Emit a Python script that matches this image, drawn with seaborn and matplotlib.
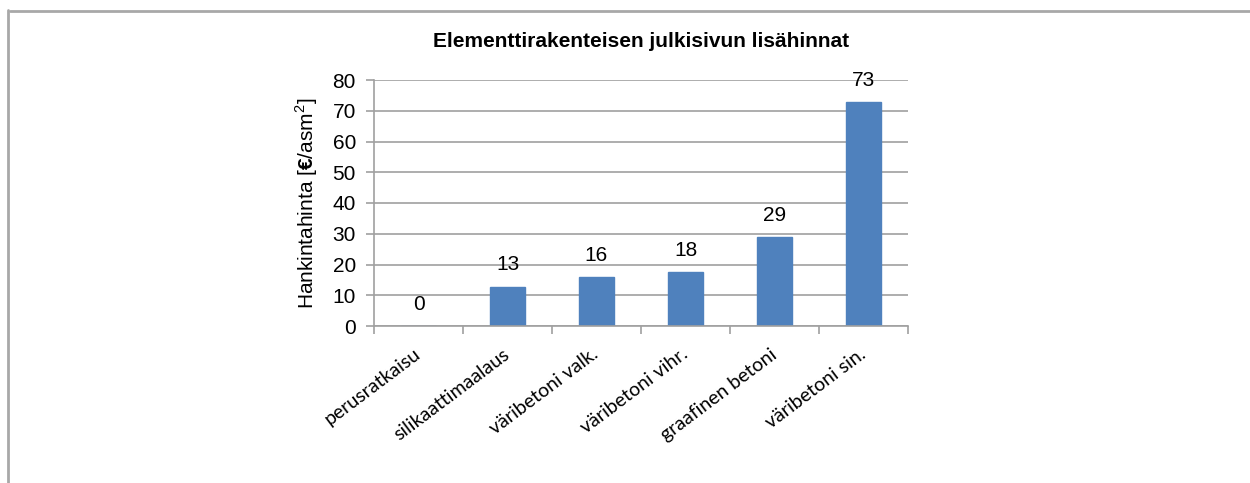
import matplotlib
matplotlib.use("Agg")
import matplotlib.pyplot as plt
from matplotlib.lines import Line2D
import numpy as np
import pandas as pd
import seaborn as sns

# data
categories = ['perusratkaisu', 'silikaattimaalaus', 'väribetoni valk.',
              'väribetoni vihr.', 'graafinen betoni', 'väribetoni sin.']
values = [0, 12.7, 15.8, 17.5, 28.8, 72.8]
labels = ['0', '13', '16', '18', '29', '73']
yticks = [0, 10, 20, 30, 40, 50, 60, 70, 80]

df = pd.DataFrame({'kohde': categories, 'hinta': values})

sns.set_style('white')
plt.rcParams['font.family'] = ['Liberation Sans', 'DejaVu Sans']
plt.rcParams['text.color'] = 'black'
plt.rcParams['axes.labelcolor'] = 'black'
plt.rcParams['xtick.color'] = 'black'
plt.rcParams['ytick.color'] = 'black'
plt.rcParams['mathtext.fontset'] = 'custom'
plt.rcParams['mathtext.rm'] = 'Liberation Sans'
plt.rcParams['mathtext.bf'] = 'Liberation Sans:bold'

fig = plt.figure(figsize=(12.5, 4.83), dpi=100)
ax = fig.add_axes([374 / 1250, 1 - 326 / 483, 534 / 1250, 246 / 483])

sns.barplot(data=df, x='kohde', y='hinta', color='#4f81bd', saturation=1,
            width=0.4, ax=ax, edgecolor='#4f81bd')

grid_col = '#a0a0a0'
ax.set_ylim(0, 80)
ax.set_xlim(-0.5, 5.5)
ax.set_yticks(yticks)
ax.set_yticklabels([str(t) for t in yticks], fontsize=15)
ax.yaxis.grid(True, color=grid_col, lw=1.2)
ax.set_axisbelow(True)
for s in ['top', 'right']:
    ax.spines[s].set_visible(False)
for s in ['left', 'bottom']:
    ax.spines[s].set_color(grid_col)
    ax.spines[s].set_linewidth(1.2)
ax.tick_params(axis='y', length=6, width=1.2, color=grid_col, direction='out',
               left=True, pad=7, labelcolor='black')

# category labels, boundaries as ticks
ax.set_xticks(range(len(categories)))
ax.set_xticklabels(categories, rotation=37, ha='right', va='center',
                   rotation_mode='anchor', fontsize=14, family=['Lato', 'DejaVu Sans'])
ax.tick_params(axis='x', length=0, pad=19, labelcolor='black')
ax.set_xticks(np.arange(-0.5, len(categories)), minor=True)
ax.tick_params(axis='x', which='minor', length=6, width=1.2, color=grid_col,
               direction='out', bottom=True)

for i, (v, lab) in enumerate(zip(values, labels)):
    ax.annotate(lab, (i, v), xytext=(0, 22), textcoords='offset pixels',
                ha='center', va='center', fontsize=15)

ax.set_xlabel('')
ax.set_ylabel(r'Hankintahinta [$\mathbf{€}$/asm$^2$]', fontsize=15, labelpad=9)
ax.set_title('Elementtirakenteisen julkisivun lisähinnat', fontsize=15,
             fontweight='bold', pad=24)

# outer frame lines
fig.add_artist(Line2D([10 / 1250, 1], [1 - 10.5 / 483, 1 - 10.5 / 483],
                      color='#a8a8a8', lw=2, transform=fig.transFigure))
fig.add_artist(Line2D([7.5 / 1250, 7.5 / 1250], [0, 1 - 10 / 483],
                      color='#a8a8a8', lw=2, transform=fig.transFigure))

fig.savefig('out.png', dpi=100)
